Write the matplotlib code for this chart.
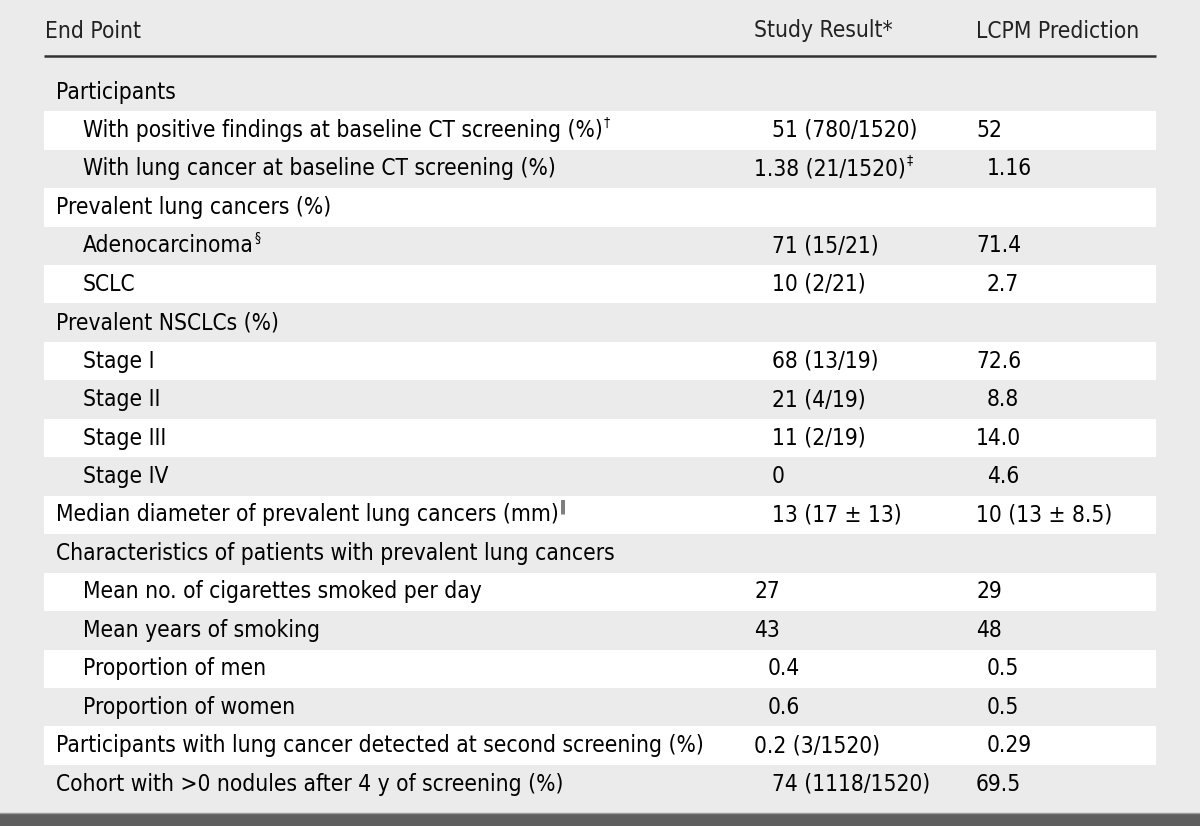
import matplotlib.pyplot as plt
from matplotlib.patches import Rectangle

# table content
headers = ["End Point", "Study Result*", "LCPM Prediction"]
labels = [
    "Participants",
    "With positive findings at baseline CT screening (%)",
    "With lung cancer at baseline CT screening (%)",
    "Prevalent lung cancers (%)",
    "Adenocarcinoma",
    "SCLC",
    "Prevalent NSCLCs (%)",
    "Stage I",
    "Stage II",
    "Stage III",
    "Stage IV",
    "Median diameter of prevalent lung cancers (mm)",
    "Characteristics of patients with prevalent lung cancers",
    "Mean no. of cigarettes smoked per day",
    "Mean years of smoking",
    "Proportion of men",
    "Proportion of women",
    "Participants with lung cancer detected at second screening (%)",
    "Cohort with >0 nodules after 4 y of screening (%)",
]
indented = [0, 1, 1, 0, 1, 1, 0, 1, 1, 1, 1, 0, 0, 1, 1, 1, 1, 0, 0]
label_marks = ["", "\u2020", "", "", "\u00a7", "", "", "", "", "", "", "\u2016",
               "", "", "", "", "", "", ""]
study = ["", "51 (780/1520)", "1.38 (21/1520)", "", "71 (15/21)", "10 (2/21)", "",
         "68 (13/19)", "21 (4/19)", "11 (2/19)", "0", "13 (17 \u00b1 13)", "",
         "27", "43", "0.4", "0.6", "0.2 (3/1520)", "74 (1118/1520)"]
study_marks = ["", "", "\u2021", "", "", "", "", "", "", "", "", "", "",
               "", "", "", "", "", ""]
lcpm = ["", "52", "1.16", "", "71.4", "2.7", "", "72.6", "8.8", "14.0", "4.6",
        "10 (13 \u00b1 8.5)", "", "29", "48", "0.5", "0.5", "0.29", "69.5"]

# layout (pixels)
W, H = 1200, 826
study_shift = [0, 18, 0, 0, 18, 18, 0, 18, 18, 18, 18, 18, 0, 0, 0, 14, 14, 0, 18]
lcpm_shift = [0, 0, 11, 0, 0, 11, 0, 0, 11, 0, 11, 0, 0, 0, 0, 11, 11, 11, 0]
row0, pitch = 92, 38.45
x_left, x_right = 44, 1156
x_label, x_indent, x_study, x_lcpm = 56, 83, 754, 976
fs = 16.3
font = dict(family="DejaVu Sans", fontstretch="condensed")
bg = "#ebebeb"

fig = plt.figure(figsize=(W / 100, H / 100), dpi=100, facecolor=bg)
ax = fig.add_axes([0, 0, 1, 1])
ax.set_xlim(0, W)
ax.set_ylim(H, 0)
ax.axis("off")

# row bands
for i in range(len(labels)):
    yc = row0 + i * pitch
    color = "white" if i % 2 == 1 else bg
    ax.add_patch(Rectangle((x_left, yc - pitch / 2), x_right - x_left, pitch,
                           facecolor=color, edgecolor="none"))

# header
hy = 31
for x, h in zip([x_label - 11, x_study, x_lcpm], headers):
    ax.text(x, hy, h, fontsize=fs, va="center", color="#222222", **font)
ax.plot([x_left, x_right], [56, 56], color="#333333", lw=1.8, solid_capstyle="butt")

# bottom band
ax.add_patch(Rectangle((0, 813), W, H - 813, facecolor="#5e5e5e", edgecolor="none"))
ax.plot([0, W], [812.5, 812.5], color="#9a9a9a", lw=1)

renderer = fig.canvas.get_renderer()
inv = ax.transData.inverted()


def put(x, y, s, mark):
    t = ax.text(x, y, s, fontsize=fs, va="center", color="black", **font)
    if mark:
        bb = t.get_window_extent(renderer)
        x1 = inv.transform((bb.x1, bb.y1))[0]
        ax.text(x1 + 1, y - 8, mark, fontsize=fs * 0.6, va="center",
                color="black", **font)


for i, lab in enumerate(labels):
    yc = row0 + i * pitch
    put(x_indent if indented[i] else x_label, yc, lab, label_marks[i])
    if study[i]:
        put(x_study + study_shift[i], yc, study[i], study_marks[i])
    if lcpm[i]:
        put(x_lcpm + lcpm_shift[i], yc, lcpm[i], "")

plt.savefig("out.png", dpi=100, facecolor=bg)
